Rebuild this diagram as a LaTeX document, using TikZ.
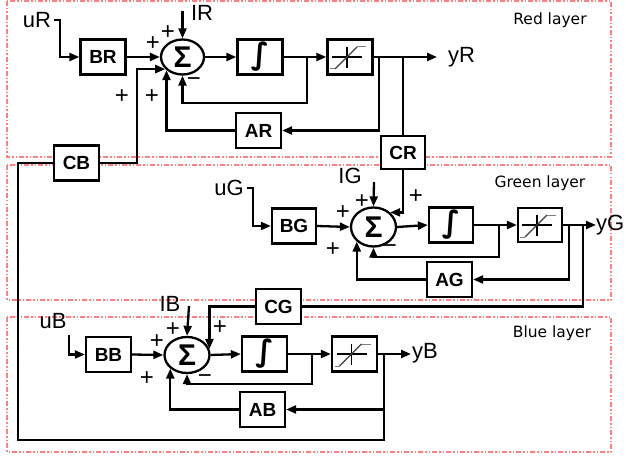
\documentclass[tikz,border=0pt]{standalone}
\usepackage{fontspec}
\setmainfont{Liberation Sans}
\newfontfamily\layerfont{DejaVu Sans}
\newfontfamily\symfont{DejaVu Sans}
\usetikzlibrary{arrows.meta,shapes.geometric}
\begin{document}
\begin{tikzpicture}[x=1pt,y=-1pt,
  conn/.style={line width=2.3pt},
  arr/.style={conn,-{Triangle[length=10pt,width=8pt]}},
  blk/.style={draw,fill=white,line width=2.3pt,minimum width=45pt,minimum height=35pt,inner sep=0pt,font=\fontsize{19}{19}\selectfont\bfseries},
  intb/.style={blk,font=\symfont\fontsize{30}{30}\selectfont\bfseries},
  sumb/.style={draw,fill=white,ellipse,line width=2.3pt,inner sep=0pt,font=\fontsize{30}{30}\selectfont\bfseries},
  lbl/.style={inner sep=0pt,font=\fontsize{22}{22}\selectfont},
  sgn/.style={inner sep=0pt,font=\fontsize{24}{24}\selectfont},
  layer/.style={draw=red!50,line width=1.5pt,dash pattern=on 5pt off 2pt on 1.5pt off 2pt on 1.5pt off 2pt},
  laytxt/.style={inner sep=0pt,font=\layerfont\fontsize{15.5}{16}\selectfont},
  satsym/.pic={
    \draw[line width=1.6pt] (-18,0) -- (12,0);
    \draw[line width=1.6pt] (-3,-10) -- (-3,11);
    \draw[gray,line width=1pt] (-20,12) -- (-15,12);
    \draw[black!75,line width=1.3pt] (-15,12) -- (7,-10);
    \draw[gray,line width=1pt] (7,-10) -- (16,-10);
  }
]
\useasboundingbox (0,0) rectangle (626,457);
% layers
\draw[layer] (7,1) rectangle (611,157);
\draw[layer] (7,165) rectangle (611,300);
\draw[layer] (7,317) rectangle (611,452);
\node[laytxt] (tR) at (550,20) {Red layer};
\node[laytxt] (tG) at (540,183) {Green layer};
\node[laytxt] (tB) at (552,333) {Blue layer};

% ---------- red row
\node[blk] (BR) at (103,57) {BR};
\node[sumb,minimum width=43pt,minimum height=35pt] (SR) at (182.5,57) {Σ};
\node[intb] (IntR) at (260,57) {∫};
\node[blk] (SatR) at (350,57) {};
\pic at (SatR.center) {satsym};
\node[blk] (AR) at (258.5,130.5) {AR};
\node[blk,minimum width=44pt,minimum height=33pt] (CR) at (403,152.5) {CR};
\node[blk] (CB) at (76.5,163) {CB};
\node[lbl] (uR) at (37,20) {uR};
\node[lbl] (IRl) at (202,13) {IR};
\node[lbl,anchor=west] (yR) at (448,57) {yR};

% ---------- green row
\node[blk,minimum width=44pt] (BG) at (294,226) {BG};
\node[sumb,minimum width=45pt,minimum height=39pt] (SG) at (373.5,227) {Σ};
\node[intb,minimum width=44pt] (IntG) at (451,225) {∫};
\node[blk,minimum width=44pt,minimum height=34pt] (SatG) at (540,225) {};
\pic at (SatG.center) {satsym};
\node[blk] (AG) at (449.5,279.5) {AG};
\node[blk] (CG) at (278.5,306.5) {CG};
\node[lbl] (uG) at (229,188) {uG};
\node[lbl] (IGl) at (350,176) {IG};
\node[lbl,anchor=west] (yG) at (596,225) {yG};

% ---------- blue row
\node[blk] (BB) at (108.5,354.5) {BB};
\node[sumb,minimum width=45pt,minimum height=36pt] (SB) at (187,355) {Σ};
\node[intb] (IntB) at (264.5,354) {∫};
\node[blk] (SatB) at (354.5,354) {};
\pic at (SatB.center) {satsym};
\node[blk] (AB) at (262.5,409.5) {AB};
\node[lbl] (uB) at (53,321) {uB};
\node[lbl] (IBl) at (170,304) {IB};
\node[lbl,anchor=west] (yB) at (412,353) {yB};

% ---------- red connectors
\coordinate (irin) at (182.5,11);
\coordinate (fR) at (307,57);
\coordinate (aR) at (379,57);
\coordinate (cR) at (403,57);
\coordinate (yRe) at (437,57);
\coordinate (cbx) at (137,100);
\draw[arr] ([xshift=3pt]uR.east) -- ++(6,0) |- (BR.west);
\draw[arr] (BR.east) -- (SR.west);
\draw[arr] (irin) -- (SR.north);
\draw[arr] (SR.east) -- (IntR.west);
\draw[arr] (IntR.east) -- (SatR.west);
\draw[arr] (fR) -- (307,103) -| (SR.south);
\draw[arr] (SatR.east) -- (yRe);
\draw[arr] (aR) |- (AR.east);
\draw[arr] (AR.west) -| (SR.south west);
\draw[conn] (cR) -- (CR.north);
\draw[arr] (CR.south) |- (SG.north east);
\draw[arr] (CB.east) -| (SR.215 -| cbx) -- (SR.215);

% ---------- green connectors
\coordinate (igin) at (374,182);
\coordinate (fG) at (499,225);
\coordinate (aG) at (569,225);
\coordinate (cG) at (583,225);
\coordinate (yGe) at (596,225);
\draw[arr] ([xshift=3pt]uG.east) -- ++(6,0) |- (BG.west);
\draw[arr] (igin) -- (SG.north);
\draw[arr] (BG.east) -- (SG.west);
\draw[arr] (SG.east) -- (IntG.west);
\draw[arr] (IntG.east) -- (SatG.west);
\draw[arr] (fG) -- (499,257) -| (SG.south);
\draw[arr] (SatG.east) -- (yGe);
\draw[arr] (aG) |- (AG.east);
\draw[arr] (AG.west) -| (SG.south west);
\draw[conn] (cG) |- (CG.east);
\draw[arr] (CG.west) -| (SB.15);

% ---------- blue connectors
\coordinate (ibin) at (189,306);
\coordinate (fB) at (312,354);
\coordinate (bB) at (384,354);
\coordinate (yBe) at (411,354);
\coordinate (lp) at (18,440);
\draw[arr] ([shift={(2,6)}]uB.south east) |- (BB.west);
\draw[arr] (ibin) -- (SB.north);
\draw[arr] (BB.east) -- (SB.west);
\draw[arr] (SB.east) -- (IntB.west);
\draw[arr] (IntB.east) -- (SatB.west);
\draw[arr] (fB) -- (312,384) -| (SB.south);
\draw[arr] (SatB.east) -- (yBe);
\draw[arr] (bB) |- (AB.east);
\draw[arr] (AB.west) -| (SB.south west);
\draw[conn] (bB) |- (lp) |- (CB.west);

% ---------- signs
\node[sgn] (r1) at (168,33) {+};
\node[sgn] (r2) at (153,44) {+};
\node[sgn] (r3) at (152,97) {+};
\node[sgn] (r4) at (122,97) {+};
\node[sgn] (r5) at (194,82) {−};
\node[sgn] (g1) at (362,202) {+};
\node[sgn] (g2) at (343,213) {+};
\node[sgn] (g3) at (333,250) {+};
\node[sgn] (g4) at (416,197) {+};
\node[sgn] (g5) at (390,249) {−};
\node[sgn] (b1) at (173,330) {+};
\node[sgn] (b2) at (157,342) {+};
\node[sgn] (b3) at (147,379) {+};
\node[sgn] (b4) at (220,328) {+};
\node[sgn] (b5) at (205,379) {−};
\end{tikzpicture}
\end{document}
